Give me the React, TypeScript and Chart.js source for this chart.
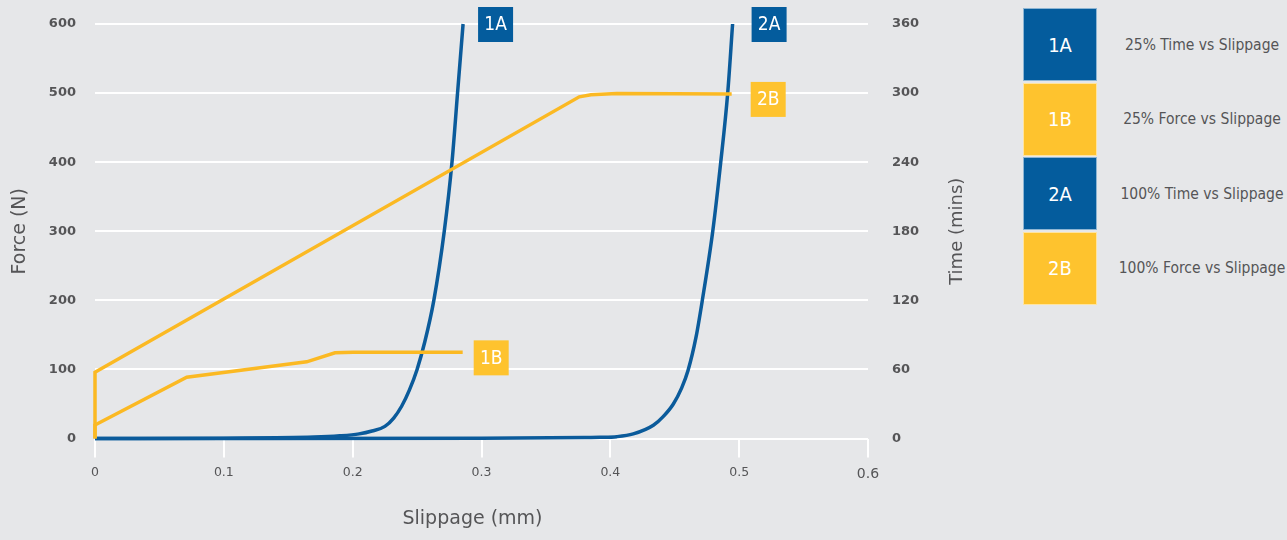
import React, { useEffect, useRef } from "react";
import { Chart, registerables } from "chart.js";

Chart.register(...registerables);

// ---- data ----
const slip1A = [0, 0.1, 0.17, 0.19, 0.205, 0.215, 0.225, 0.232, 0.238, 0.244, 0.25, 0.256, 0.263, 0.2711, 0.2771, 0.2814, 0.2857];
const time1A = [0, 0.3, 1.2, 2.3, 4, 6.5, 10.5, 18, 28, 42, 60, 84, 120, 180, 240, 300, 360];

const slip2A = [0, 0.1, 0.3, 0.38, 0.392, 0.405, 0.4178, 0.4334, 0.441, 0.4489, 0.4554, 0.4603, 0.4665, 0.4714, 0.4795, 0.4857, 0.4911, 0.4949];
const time2A = [0, 0, 0.3, 0.8, 1.0, 1.6, 4, 11.5, 19, 30, 44, 59, 88, 120, 180, 240, 300, 360];

const slip1B = [0, 0, 0.0712, 0.1643, 0.1863, 0.2005, 0.209, 0.2854];
const force1B = [0, 19.5, 88.6, 111, 124, 125, 125, 124.7];

const slip2B = [0, 0, 0.3759, 0.385, 0.405, 0.4942];
const force2B = [0, 95.8, 494.6, 497.5, 499.3, 498.8];

const slippageTicks = [0, 0.1, 0.2, 0.3, 0.4, 0.5, 0.6];
const forceTicks = [0, 100, 200, 300, 400, 500, 600];
const timeTicks = [0, 60, 120, 180, 240, 300, 360];

const seriesCodes = ["1A", "1B", "2A", "2B"];
const seriesNames = [
  "25% Time vs Slippage",
  "25% Force vs Slippage",
  "100% Time vs Slippage",
  "100% Force vs Slippage",
];

// ---- styles ----
const BLUE = "#0b5b9b";
const YELLOW = "#fbb923";
const BOX_BLUE = "#045c9d";
const BOX_YELLOW = "#fec32e";
const BG = "#e6e7e9";
const TEXT = "#555557";
const NARROW = '"Liberation Sans Narrow", "DejaVu Sans Condensed", "Arial Narrow", sans-serif';
const WIDE = '"DejaVu Sans", "Open Sans", sans-serif';

const toPoints = (xs: number[], ys: number[]) => xs.map((x, i) => ({ x, y: ys[i] }));

// label placement relative to the last point of each series
const labelPlacement: Record<string, { dx: number; dy: number; color: string }> = {
  "1A": { dx: 15, dy: -17, color: BOX_BLUE },
  "2A": { dx: 19, dy: -17, color: BOX_BLUE },
  "1B": { dx: 11, dy: -12, color: BOX_YELLOW },
  "2B": { dx: 19, dy: -12, color: BOX_YELLOW },
};

const endLabelsPlugin = {
  id: "endLabels",
  afterDatasetsDraw(chart: any) {
    const ctx = chart.ctx;
    chart.data.datasets.forEach((ds: any, i: number) => {
      const meta = chart.getDatasetMeta(i);
      const pt = meta.data[meta.data.length - 1];
      const p = labelPlacement[ds.label];
      if (!pt || !p) return;
      const size = 35;
      const left = pt.x + p.dx;
      const top = pt.y + p.dy;
      ctx.save();
      ctx.fillStyle = p.color;
      ctx.fillRect(left, top, size, size);
      ctx.fillStyle = "#ffffff";
      ctx.font = `19px ${NARROW}`;
      ctx.textAlign = "center";
      ctx.textBaseline = "middle";
      ctx.fillText(ds.label, left + size / 2, top + size / 2 + 1);
      ctx.restore();
    });
  },
  afterDraw(chart: any) {
    const ctx = chart.ctx;
    const s = chart.scales.y1;
    const xs = chart.scales.x;
    const ca = chart.chartArea;
    ctx.save();
    ctx.fillStyle = TEXT;
    ctx.font = `18px ${WIDE}`;
    ctx.textAlign = "center";
    ctx.textBaseline = "middle";
    // right axis title, reading upwards
    ctx.save();
    ctx.translate(s.right - 42.5, (ca.top + ca.bottom) / 2);
    ctx.rotate(-Math.PI / 2);
    ctx.fillText("Time (mins)", 0, 0);
    ctx.restore();
    // bottom axis title
    ctx.font = `19px ${WIDE}`;
    ctx.fillText("Slippage (mm)", (ca.left + ca.right) / 2 - 9, xs.bottom - 21);
    ctx.restore();
  },
};

function App() {
  const ref = useRef<HTMLCanvasElement | null>(null);

  useEffect(() => {
    if (!ref.current) return;
    const line = (label: string, data: any, axis: string, color: string, smooth: boolean, order: number) => ({
      label,
      data,
      yAxisID: axis,
      borderColor: color,
      borderWidth: 3.5,
      pointRadius: 0,
      tension: 0,
      cubicInterpolationMode: smooth ? "monotone" : "default",
      clip: false,
      order,
    });
    const chart = new Chart(ref.current, {
      type: "line",
      data: {
        datasets: [
          line("1B", toPoints(slip1B, force1B), "y", YELLOW, false, 0),
          line("2B", toPoints(slip2B, force2B), "y", YELLOW, false, 0),
          line("1A", toPoints(slip1A, time1A), "y1", BLUE, true, 1),
          line("2A", toPoints(slip2A, time2A), "y1", BLUE, true, 1),
        ] as any,
      },
      options: {
        responsive: false,
        animation: false,
        events: [],
        layout: { padding: { top: 24, left: 0, right: 0, bottom: 0 } },
        plugins: {
          legend: { display: false },
          tooltip: { enabled: false },
        },
        scales: {
          x: {
            type: "linear",
            position: "bottom",
            min: 0,
            max: 0.6,
            afterBuildTicks: (s: any) => {
              s.ticks = slippageTicks.map((v) => ({ value: v }));
            },
            afterFit: (s: any) => {
              s.height = 101.5;
            },
            grid: {
              drawOnChartArea: false,
              drawTicks: true,
              tickLength: 19,
              color: "#ffffff",
              lineWidth: 2,
            },
            border: { display: false },
            ticks: {
              padding: 8,
              color: TEXT,
              maxRotation: 0,
              autoSkip: false,
              font: (c: any) => ({
                family: WIDE,
                size: c.tick && c.tick.value === 0.6 ? 14 : 12.5,
              }),
              callback: (v: any) => String(v),
            },
            title: { display: false },
          },
          y: {
            type: "linear",
            position: "left",
            min: 0,
            max: 600,
            afterBuildTicks: (s: any) => {
              s.ticks = forceTicks.map((v) => ({ value: v }));
            },
            afterFit: (s: any) => {
              s.width = 95;
              s.paddingTop = 0;
              s.paddingBottom = 0;
            },
            grid: {
              color: "#ffffff",
              lineWidth: 2,
              drawTicks: false,
            },
            border: { display: false },
            ticks: {
              padding: 19,
              color: TEXT,
              font: { family: WIDE, size: 13, weight: "bold" },
            },
            title: {
              display: true,
              text: "Force (N)",
              color: TEXT,
              font: { family: WIDE, size: 19 },
              padding: { top: 9, bottom: 0 },
            },
          },
          y1: {
            type: "linear",
            position: "right",
            min: 0,
            max: 360,
            afterBuildTicks: (s: any) => {
              s.ticks = timeTicks.map((v) => ({ value: v }));
            },
            afterFit: (s: any) => {
              s.width = 132;
              s.paddingTop = 0;
              s.paddingBottom = 0;
            },
            grid: { drawOnChartArea: false, drawTicks: false },
            border: { display: false },
            ticks: {
              padding: 24,
              color: TEXT,
              font: { family: WIDE, size: 13, weight: "bold" },
            },
          },
        },
      } as any,
      plugins: [endLabelsPlugin],
    });
    return () => chart.destroy();
  }, []);

  return (
    <div
      style={{
        position: "fixed",
        left: 0,
        top: 0,
        width: 1287,
        height: 540,
        background: BG,
        overflow: "hidden",
      }}
    >
      <canvas
        ref={ref}
        width={1000}
        height={540}
        style={{ position: "absolute", left: 0, top: 0, display: "block" }}
      />
      {seriesCodes.map((code, i) => {
        const top = 8 + i * 74.5;
        const isBlue = code.endsWith("A");
        return (
          <React.Fragment key={code}>
            <div
              style={{
                position: "absolute",
                left: 1023,
                top,
                width: 74,
                height: 73,
                boxSizing: "border-box",
                border: "1px solid rgba(255,255,255,0.55)",
                background: isBlue ? BOX_BLUE : BOX_YELLOW,
                color: "#ffffff",
                display: "flex",
                alignItems: "center",
                justifyContent: "center",
                fontFamily: NARROW,
                fontSize: 20,
              }}
            >
              {code}
            </div>
            <div
              style={{
                position: "absolute",
                left: 1112,
                top,
                width: 180,
                height: 73,
                display: "flex",
                alignItems: "center",
                justifyContent: "center",
                whiteSpace: "nowrap",
                fontFamily: NARROW,
                fontSize: 15.5,
                color: TEXT,
              }}
            >
              {seriesNames[i]}
            </div>
          </React.Fragment>
        );
      })}
    </div>
  );
}

export default App;
